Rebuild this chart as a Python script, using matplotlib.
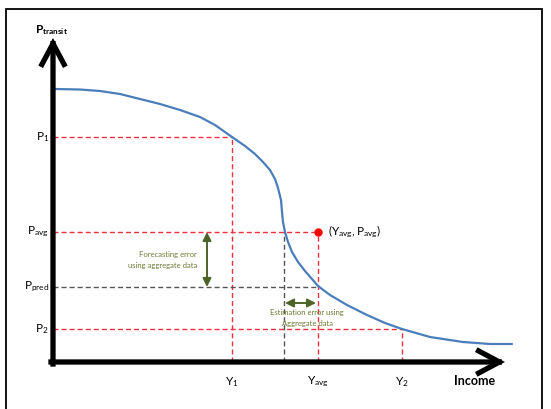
import matplotlib.pyplot as plt
from matplotlib.patches import FancyArrowPatch, Rectangle

plt.rcParams['font.family'] = ['Lato', 'DejaVu Sans']
plt.rcParams['mathtext.fontset'] = 'custom'
plt.rcParams['mathtext.rm'] = 'Lato'
plt.rcParams['mathtext.bf'] = 'Lato:bold'

# Curva de demanda de transito (ingreso vs probabilidad)
ingreso = [2, 27, 47, 67, 87, 107, 127, 147, 162, 179, 192, 202, 210, 217, 222,
           225, 228, 229, 230, 232, 235, 239, 245, 252, 259, 265, 277, 294, 314,
           332, 349, 377, 410, 437, 459]
p_transit = [273, 272.5, 271, 268, 263, 258, 252, 245, 237, 225, 216, 208, 200, 192, 183,
             174, 162, 150, 140, 130, 120, 110, 100, 91, 83, 76, 67, 57, 47,
             39, 33, 25, 20, 18, 18]

# Puntos notables
y_1, y_cruce, y_avg, y_2 = 179, 231, 265, 349
p_1, p_avg, p_pred, p_2 = 225, 130, 75, 33
eje_x_max, eje_y_max = 440, 322

rojo = '#f0303c'
gris = '#555555'
oliva = '#4f6228'
texto_oliva = '#6a7a32'
azul = '#4a7ebb'

fig = plt.figure(figsize=(5.51, 4.09), dpi=100)
ax = fig.add_axes([0, 0, 1, 1])
ax.set_xlim(-53, 498)
ax.set_ylim(-47, 362)
ax.axis('off')

# Marco exterior
fig.patches.append(Rectangle((6 / 551, -0.01), 536 / 551, 1 - 9 / 409 + 0.01,
                             transform=fig.transFigure, fill=False,
                             edgecolor='black', lw=1.3))

dash = dict(lw=1.0, dashes=(3.6, 2.2))

# Lineas punteadas rojas
ax.plot([0, y_1], [p_1, p_1], color=rojo, **dash)
ax.plot([y_1, y_1], [0, p_1], color=rojo, **dash)
ax.plot([0, y_avg], [p_avg, p_avg], color=rojo, **dash)
ax.plot([y_avg, y_avg], [0, p_avg], color=rojo, **dash)
ax.plot([0, y_2], [p_2, p_2], color=rojo, **dash)
ax.plot([y_2, y_2], [0, p_2], color=rojo, **dash)
# Lineas punteadas grises
ax.plot([0, y_avg], [p_pred, p_pred], color=gris, **dash)
ax.plot([y_cruce, y_cruce], [0, p_avg], color=gris, **dash)

# Curva
ax.plot(ingreso, p_transit, color=azul, lw=1.6, solid_joinstyle='round',
        solid_capstyle='round', zorder=3)
ax.plot([y_avg], [p_avg], 'o', color='#ff0000', ms=5, zorder=4)

# Ejes con flecha
for tip in [(eje_x_max + 12, 0), (0, eje_y_max + 2)]:
    start = (-2, 0) if tip[1] == 0 else (0, -2)
    ax.add_patch(FancyArrowPatch(start, tip, arrowstyle='->,head_length=1.5,head_width=0.8',
                                 mutation_scale=10, lw=3.8, color='black',
                                 capstyle='projecting', joinstyle='miter',
                                 shrinkA=0, shrinkB=0, zorder=5))

# Flechas de error
ax.add_patch(FancyArrowPatch((154, p_avg), (154, p_pred), arrowstyle='<|-|>,head_length=0.5,head_width=0.25',
                             mutation_scale=10, lw=1.4, color=oliva, shrinkA=0, shrinkB=0))
ax.add_patch(FancyArrowPatch((y_cruce + 1, 59), (y_avg - 2, 59), arrowstyle='<|-|>,head_length=0.5,head_width=0.25',
                             mutation_scale=10, lw=1.4, color=oliva, shrinkA=0, shrinkB=0))

ax.text(144, 102, 'Forecasting error\nusing aggregate data', ha='right', va='center',
        fontsize=5.5, color=texto_oliva, linespacing=1.6)
ax.text(254, 44, 'Estimation error using\nAggregate data', ha='center', va='center',
        fontsize=5.5, color=texto_oliva, linespacing=1.6)

# Etiquetas
ax.text(-18, 332, r'$\mathbf{P_{transit}}$', fontsize=8.5, ha='left', va='center')
for val, lab in [(p_1, r'$\mathrm{P_1}$'), (p_avg, r'$\mathrm{P_{avg}}$'),
                 (p_pred, r'$\mathrm{P_{pred}}$'), (p_2, r'$\mathrm{P_2}$')]:
    ax.text(-4, val, lab, fontsize=8.5, ha='right', va='center')
for val, lab in [(y_1, r'$\mathrm{Y_1}$'), (y_avg, r'$\mathrm{Y_{avg}}$'),
                 (y_2, r'$\mathrm{Y_2}$')]:
    ax.text(val, -20, lab, fontsize=8.5, ha='center', va='center')
ax.text(y_avg + 10, p_avg, r'$\mathrm{(Y_{avg},P_{avg})}$', fontsize=8.5, ha='left', va='center')
ax.text(422, -19, 'Income', fontsize=9, fontweight='bold', ha='center', va='center')

fig.savefig('out.png', dpi=100)
